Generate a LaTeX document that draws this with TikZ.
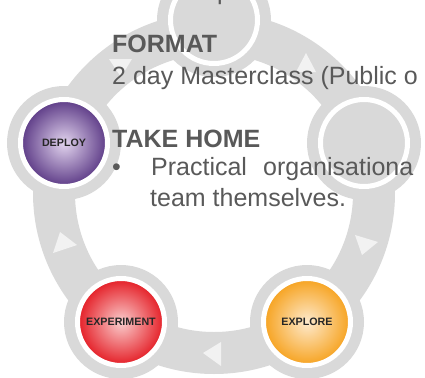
\documentclass[tikz,border=0pt]{standalone}
\usepackage{fontspec}
\setmainfont{Liberation Sans}
\begin{document}
\begin{tikzpicture}[x=1bp,y=-1bp]
% Couleurs (MODIFIABLES)
\definecolor{gris}{RGB}{217,217,217}
\definecolor{grisclair}{RGB}{242,242,242}
\definecolor{texte}{RGB}{89,89,89}
\definecolor{etiquette}{RGB}{38,38,38}
\definecolor{violetA}{RGB}{226,212,238}
\definecolor{violetB}{RGB}{92,58,134}
\definecolor{rougeA}{RGB}{250,205,205}
\definecolor{rougeB}{RGB}{228,28,36}
\definecolor{orangeA}{RGB}{254,234,205}
\definecolor{orangeB}{RGB}{246,162,30}
% Styles (MODIFIABLES)
\tikzstyle{anneau}=[fill=gris,even odd rule]
\tikzstyle{halo}=[fill=gris]
\tikzstyle{pointe}=[fill=grisclair]
\tikzstyle{boule}=[circle,draw=white,line width=5bp,minimum size=87bp,inner sep=0pt,text=etiquette,font=\fontsize{10.7bp}{12bp}\selectfont\bfseries]
\tikzstyle{vide}=[boule,fill=gris]
\tikzstyle{violette}=[boule,shading=radial,inner color=violetA,outer color=violetB]
\tikzstyle{rouge}=[boule,shading=radial,inner color=rougeA,outer color=rougeB]
\tikzstyle{orange}=[boule,shading=radial,inner color=orangeA,outer color=orangeB]
\tikzstyle{titre}=[anchor=base west,inner sep=0pt,text=texte,font=\fontsize{25bp}{30bp}\selectfont\bfseries]
\tikzstyle{ligne}=[anchor=base west,inner sep=0pt,text=texte,font=\fontsize{25bp}{30bp}\selectfont]
% Dimensions (MODIFIABLES)
\def\RayonHalo{57}
\def\RayonExt{181}
\def\RayonInt{139}
\def\XCentre{214}
\def\XGauche{64}
\def\XDroite{364}
\def\XBasGauche{121}
\def\XBasDroite{307}
\def\YHaut{20}
\def\YMilieu{143}
\def\YBas{322}
\def\YCentre{193}
% Cadre
\useasboundingbox (0,0) rectangle (425,378);
\clip (0,0) rectangle (425,378);
% Anneau et halos
\fill[anneau] (\XCentre,\YCentre) circle (\RayonExt) (\XCentre,\YCentre) circle (\RayonInt);
\foreach \x/\y in {\XCentre/\YHaut,\XDroite/\YMilieu,\XGauche/\YMilieu,\XBasGauche/\YBas,\XBasDroite/\YBas}
  \fill[halo] (\x,\y) circle (\RayonHalo);
% Pointes
\fill[pointe] (203,353) -- (221,342) -- (221,366) -- cycle;
\fill[pointe] (77,245) -- (53,253) -- (60,232) -- cycle;
\fill[pointe] (378,242) -- (355,235) -- (362,255) -- cycle;
\fill[pointe] (121,77) -- (109,59) -- (132,59) -- cycle;
\fill[pointe] (306,53) -- (296,72) -- (316,72) -- cycle;
% Noeuds
\node[vide] (Haut) at (\XCentre,\YHaut) {};
\node[vide] (Droite) at (\XDroite,\YMilieu) {};
\node[violette] (Deploy) at (\XGauche,\YMilieu) {DEPLOY};
\node[rouge] (Experiment) at (\XBasGauche,\YBas) {EXPERIMENT};
\node[orange] (Explore) at (\XBasDroite,\YBas) {EXPLORE};
% Textes
\node[ligne] (Fragment) at (217,-1) {p};
\node[titre] (Format) at (112,52) {FORMAT};
\node[ligne] (Duree) at (112,84) {2 day Masterclass (Public o};
\node[titre] (Emporter) at (112,147) {TAKE HOME};
\node[ligne] (Puce) at (112,175) {•};
\node[ligne] (Pratique) at (151,175) {Practical};
\node[ligne] (Organisation) at (263,175) {organisationa};
\node[ligne] (Equipe) at (150,206) {team themselves.};
\end{tikzpicture}
\end{document}
